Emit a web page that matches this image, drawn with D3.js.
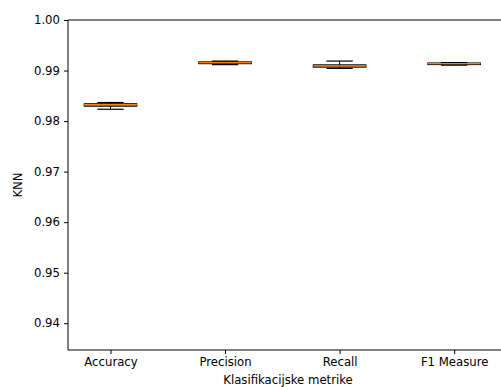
<!DOCTYPE html>
<html>
<head>
<meta charset="utf-8">
<script src="https://cdn.jsdelivr.net/npm/d3@7"></script>
<style>
  body { margin: 0; background: #fff; }
  text { font-family: "DejaVu Sans", sans-serif; fill: #000; }
</style>
</head>
<body>
<svg id="chart" width="501" height="387"></svg>
<script>
// box plot stats
var metrics = ["Accuracy", "Precision", "Recall", "F1 Measure"];
var whiskerLow  = [0.98234, 0.99117, 0.99042, 0.99107];
var q1          = [0.98294, 0.99135, 0.99067, 0.99117];
var median      = [0.98323, 0.99157, 0.99093, 0.99137];
var q3          = [0.98343, 0.99172, 0.99113, 0.99150];
var whiskerHigh = [0.98367, 0.99187, 0.99187, 0.99157];
var boxFill = ["#1f77b4", "#ff7f0e", "#8c7b6b", "#ff7f0e"];
var yTicks = [0.94, 0.95, 0.96, 0.97, 0.98, 0.99, 1.00];

var svg = d3.select("#chart");

var x = d3.scaleLinear().domain([0.629, 4.47]).range([68, 508]);
var y = d3.scaleLinear().domain([0.9347, 1.0]).range([350, 20]);
var boxW = 0.46, capW = 0.23;

// axes
svg.append("g")
  .attr("transform", "translate(68,0)")
  .call(d3.axisLeft(y).tickValues(yTicks).tickFormat(d3.format(".2f")).tickSize(4).tickPadding(4))
  .call(function(g) {
    g.select(".domain").remove();
    g.selectAll("text").style("font-size", "11.7px").attr("font-family", "DejaVu Sans");
  });

svg.append("g")
  .attr("transform", "translate(0,350)")
  .call(d3.axisBottom(x).tickValues([1, 2, 3, 4]).tickFormat(function(d) { return metrics[d-1]; }).tickSize(4).tickPadding(4))
  .call(function(g) {
    g.select(".domain").remove();
    g.selectAll("text").style("font-size", "11.7px").attr("font-family", "DejaVu Sans");
  });

// spines
svg.append("path")
  .attr("d", "M68,20V350H508M68,20H508")
  .attr("fill", "none")
  .attr("stroke", "#000")
  .attr("stroke-width", 1);

// boxes
var boxes = svg.append("g").selectAll("g")
  .data(metrics)
  .enter()
  .append("g");

boxes.append("line")
  .attr("x1", function(d,i) { return x(i+1); })
  .attr("x2", function(d,i) { return x(i+1); })
  .attr("y1", function(d,i) { return y(whiskerLow[i]); })
  .attr("y2", function(d,i) { return y(whiskerHigh[i]); })
  .attr("stroke", "#000");

boxes.selectAll(".cap")
  .data(function(d,i) { return [[i, whiskerLow[i]], [i, whiskerHigh[i]]]; })
  .enter()
  .append("line")
  .attr("x1", function(d) { return x(d[0]+1 - capW/2); })
  .attr("x2", function(d) { return x(d[0]+1 + capW/2); })
  .attr("y1", function(d) { return y(d[1]); })
  .attr("y2", function(d) { return y(d[1]); })
  .attr("stroke", "#000")
  .attr("stroke-width", 1.2);

boxes.append("rect")
  .attr("x", function(d,i) { return x(i+1 - boxW/2); })
  .attr("width", function(d,i) { return x(i+1 + boxW/2) - x(i+1 - boxW/2); })
  .attr("y", function(d,i) { return y(q3[i]); })
  .attr("height", function(d,i) { return y(q1[i]) - y(q3[i]); })
  .attr("fill", function(d,i) { return boxFill[i]; })
  .attr("stroke", "#000")
  .attr("stroke-width", 1);

boxes.append("line")
  .attr("x1", function(d,i) { return x(i+1 - boxW/2); })
  .attr("x2", function(d,i) { return x(i+1 + boxW/2); })
  .attr("y1", function(d,i) { return y(median[i]); })
  .attr("y2", function(d,i) { return y(median[i]); })
  .attr("stroke", "#ff7f0e")
  .attr("stroke-width", 1.3);

// labels
svg.append("text")
  .attr("x", 288).attr("y", 384)
  .attr("text-anchor", "middle")
  .style("font-size", "11.7px")
  .text("Klasifikacijske metrike");

svg.append("text")
  .attr("transform", "translate(22,185) rotate(-90)")
  .attr("text-anchor", "middle")
  .style("font-size", "11.7px")
  .text("KNN");
</script>
</body>
</html>
